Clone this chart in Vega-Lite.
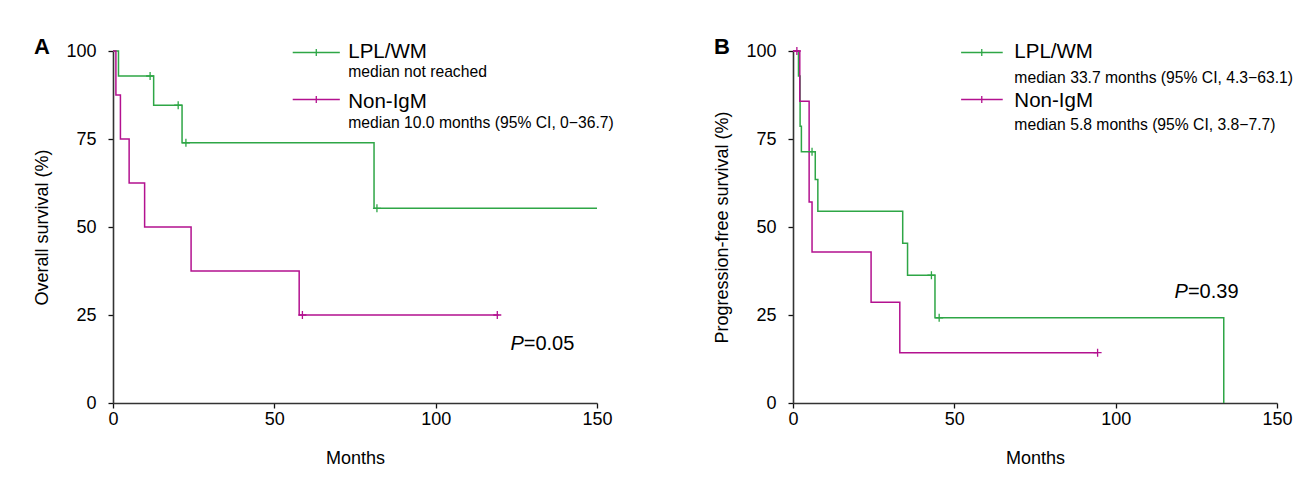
{
  "$schema": "https://vega.github.io/schema/vega-lite/v6.json",
  "background": "white",
  "padding": {"left": 33, "top": 36, "right": 0, "bottom": 0},
  "bounds": "flush",
  "spacing": 196,
  "datasets": {
    "curves": [
      {"panel": "A", "group": "LPL/WM", "month": 0, "surv": 100},
      {"panel": "A", "group": "LPL/WM", "month": 1.7, "surv": 92.9},
      {"panel": "A", "group": "LPL/WM", "month": 12.6, "surv": 84.6},
      {"panel": "A", "group": "LPL/WM", "month": 21.4, "surv": 73.9},
      {"panel": "A", "group": "LPL/WM", "month": 80.9, "surv": 55.3},
      {"panel": "A", "group": "LPL/WM", "month": 150, "surv": 55.3},
      {"panel": "A", "group": "Non-IgM", "month": 0, "surv": 100},
      {"panel": "A", "group": "Non-IgM", "month": 0.9, "surv": 87.5},
      {"panel": "A", "group": "Non-IgM", "month": 2.3, "surv": 75},
      {"panel": "A", "group": "Non-IgM", "month": 5.0, "surv": 62.5},
      {"panel": "A", "group": "Non-IgM", "month": 9.8, "surv": 50},
      {"panel": "A", "group": "Non-IgM", "month": 24.2, "surv": 37.5},
      {"panel": "A", "group": "Non-IgM", "month": 57.7, "surv": 25},
      {"panel": "A", "group": "Non-IgM", "month": 119.5, "surv": 25},
      {"panel": "B", "group": "LPL/WM", "month": 0, "surv": 100},
      {"panel": "B", "group": "LPL/WM", "month": 1.7, "surv": 92.9},
      {"panel": "B", "group": "LPL/WM", "month": 2.2, "surv": 78.6},
      {"panel": "B", "group": "LPL/WM", "month": 2.6, "surv": 71.4},
      {"panel": "B", "group": "LPL/WM", "month": 6.9, "surv": 63.5},
      {"panel": "B", "group": "LPL/WM", "month": 7.7, "surv": 54.5},
      {"panel": "B", "group": "LPL/WM", "month": 34.0, "surv": 45.4},
      {"panel": "B", "group": "LPL/WM", "month": 35.5, "surv": 36.3},
      {"panel": "B", "group": "LPL/WM", "month": 44.0, "surv": 24.2},
      {"panel": "B", "group": "LPL/WM", "month": 133.5, "surv": 0},
      {"panel": "B", "group": "Non-IgM", "month": 0, "surv": 100},
      {"panel": "B", "group": "Non-IgM", "month": 2.1, "surv": 85.7},
      {"panel": "B", "group": "Non-IgM", "month": 5.0, "surv": 57.1},
      {"panel": "B", "group": "Non-IgM", "month": 5.9, "surv": 42.9},
      {"panel": "B", "group": "Non-IgM", "month": 24.2, "surv": 28.6},
      {"panel": "B", "group": "Non-IgM", "month": 33.1, "surv": 14.3},
      {"panel": "B", "group": "Non-IgM", "month": 94.4, "surv": 14.3}
    ],
    "censors": [
      {"panel": "A", "group": "LPL/WM", "month": 11.5, "surv": 92.9},
      {"panel": "A", "group": "LPL/WM", "month": 20.2, "surv": 84.6},
      {"panel": "A", "group": "LPL/WM", "month": 22.6, "surv": 73.9},
      {"panel": "A", "group": "LPL/WM", "month": 81.8, "surv": 55.3},
      {"panel": "A", "group": "Non-IgM", "month": 58.7, "surv": 25},
      {"panel": "A", "group": "Non-IgM", "month": 119.1, "surv": 25},
      {"panel": "B", "group": "LPL/WM", "month": 5.9, "surv": 71.4},
      {"panel": "B", "group": "LPL/WM", "month": 42.9, "surv": 36.3},
      {"panel": "B", "group": "LPL/WM", "month": 45.3, "surv": 24.2},
      {"panel": "B", "group": "Non-IgM", "month": 1.2, "surv": 100},
      {"panel": "B", "group": "Non-IgM", "month": 94.4, "surv": 14.3}
    ]
  },
  "config": {
    "font": "Liberation Sans",
    "view": {"stroke": null},
    "axis": {
      "grid": false,
      "domainColor": "#333",
      "domainWidth": 1.6,
      "tickColor": "#111",
      "tickWidth": 1.3,
      "tickSize": 5,
      "labelFont": "Liberation Sans",
      "labelFontSize": 18,
      "labelColor": "#000",
      "titleFont": "Liberation Sans",
      "titleFontSize": 18,
      "titleFontWeight": "normal",
      "titleColor": "#000"
    },
    "axisX": {"labelPadding": 2, "titlePadding": 21, "labelFlush": false},
    "axisY": {"labelPadding": 12, "titlePadding": 14},
    "title": {"anchor": "start", "frame": "bounds", "fontSize": 22, "fontWeight": "bold", "font": "Liberation Sans", "color": "#000", "offset": -17},
    "text": {"font": "Liberation Sans", "color": "#000"}
  },
  "hconcat": [
    {
      "width": 484,
      "height": 352,
      "title": {"text": "A"},
      "layer": [
        {
          "data": {"name": "curves"},
          "transform": [{"filter": "datum.panel === 'A'"}],
          "mark": {"type": "line", "interpolate": "step-after", "strokeWidth": 1.5},
          "encoding": {
            "x": {"field": "month", "type": "quantitative", "scale": {"domain": [0, 150], "nice": false}, "axis": {"values": [0, 50, 100, 150], "title": "Months"}},
            "y": {"field": "surv", "type": "quantitative", "scale": {"domain": [0, 100], "nice": false}, "axis": {"values": [0, 25, 50, 75, 100], "title": "Overall survival (%)"}},
            "color": {"field": "group", "type": "nominal", "scale": {"domain": ["LPL/WM", "Non-IgM"], "range": ["#2ea646", "#b3118f"]}, "legend": null}
          }
        },
        {
          "data": {"name": "censors"},
          "transform": [{"filter": "datum.panel === 'A'"}],
          "mark": {"type": "point", "shape": "M0,-1V1M-1,0H1", "filled": false, "size": 64, "strokeWidth": 1.3, "opacity": 1},
          "encoding": {
            "x": {"field": "month", "type": "quantitative"},
            "y": {"field": "surv", "type": "quantitative"},
            "color": {"field": "group", "type": "nominal", "legend": null}
          }
        },
        {
          "data": {"values": [{"group": "LPL/WM"}]},
          "mark": {"type": "rule", "strokeWidth": 1.5},
          "encoding": {"x": {"datum": 55.7}, "x2": {"datum": 70.3}, "y": {"datum": 99.6}, "color": {"field": "group", "type": "nominal", "legend": null}}
        },
        {
          "data": {"values": [{"group": "Non-IgM"}]},
          "mark": {"type": "rule", "strokeWidth": 1.5},
          "encoding": {"x": {"datum": 55.7}, "x2": {"datum": 70.3}, "y": {"datum": 86.2}, "color": {"field": "group", "type": "nominal", "legend": null}}
        },
        {
          "data": {"values": [{"group": "LPL/WM"}]},
          "mark": {"type": "point", "shape": "M0,-1V1", "filled": false, "size": 49, "strokeWidth": 1.3, "opacity": 1},
          "encoding": {"x": {"datum": 63}, "y": {"datum": 99.6}, "color": {"field": "group", "type": "nominal", "legend": null}}
        },
        {
          "data": {"values": [{"group": "Non-IgM"}]},
          "mark": {"type": "point", "shape": "M0,-1V1", "filled": false, "size": 49, "strokeWidth": 1.3, "opacity": 1},
          "encoding": {"x": {"datum": 63}, "y": {"datum": 86.2}, "color": {"field": "group", "type": "nominal", "legend": null}}
        },
        {
          "data": {"values": [{"t": "LPL/WM"}]},
          "mark": {"type": "text", "align": "left", "baseline": "middle", "fontSize": 20.5},
          "encoding": {"x": {"datum": 72.9}, "y": {"datum": 99.6}, "text": {"field": "t"}}
        },
        {
          "data": {"values": [{"t": "median not reached"}]},
          "mark": {"type": "text", "align": "left", "baseline": "middle", "fontSize": 15.7},
          "encoding": {"x": {"datum": 72.9}, "y": {"datum": 94.0}, "text": {"field": "t"}}
        },
        {
          "data": {"values": [{"t": "Non-IgM"}]},
          "mark": {"type": "text", "align": "left", "baseline": "middle", "fontSize": 20.5},
          "encoding": {"x": {"datum": 72.9}, "y": {"datum": 85.6}, "text": {"field": "t"}}
        },
        {
          "data": {"values": [{"t": "median 10.0 months (95% CI, 0−36.7)"}]},
          "mark": {"type": "text", "align": "left", "baseline": "middle", "fontSize": 15.7},
          "encoding": {"x": {"datum": 72.9}, "y": {"datum": 79.6}, "text": {"field": "t"}}
        },
        {
          "data": {"values": [{"t": "P"}]},
          "mark": {"type": "text", "align": "right", "baseline": "middle", "fontSize": 20, "fontStyle": "italic"},
          "encoding": {"x": {"datum": 127.3}, "y": {"datum": 16.8}, "text": {"field": "t"}}
        },
        {
          "data": {"values": [{"t": "=0.05"}]},
          "mark": {"type": "text", "align": "left", "baseline": "middle", "fontSize": 20},
          "encoding": {"x": {"datum": 127.3}, "y": {"datum": 16.8}, "text": {"field": "t"}}
        }
      ]
    },
    {
      "width": 484,
      "height": 352,
      "title": {"text": "B"},
      "layer": [
        {
          "data": {"name": "curves"},
          "transform": [{"filter": "datum.panel === 'B'"}],
          "mark": {"type": "line", "interpolate": "step-after", "strokeWidth": 1.5},
          "encoding": {
            "x": {"field": "month", "type": "quantitative", "scale": {"domain": [0, 150], "nice": false}, "axis": {"values": [0, 50, 100, 150], "title": "Months"}},
            "y": {"field": "surv", "type": "quantitative", "scale": {"domain": [0, 100], "nice": false}, "axis": {"values": [0, 25, 50, 75, 100], "title": "Progression-free survival (%)"}},
            "color": {"field": "group", "type": "nominal", "scale": {"domain": ["LPL/WM", "Non-IgM"], "range": ["#2ea646", "#b3118f"]}, "legend": null}
          }
        },
        {
          "data": {"name": "censors"},
          "transform": [{"filter": "datum.panel === 'B'"}],
          "mark": {"type": "point", "shape": "M0,-1V1M-1,0H1", "filled": false, "size": 64, "strokeWidth": 1.3, "opacity": 1},
          "encoding": {
            "x": {"field": "month", "type": "quantitative"},
            "y": {"field": "surv", "type": "quantitative"},
            "color": {"field": "group", "type": "nominal", "legend": null}
          }
        },
        {
          "data": {"values": [{"group": "LPL/WM"}]},
          "mark": {"type": "rule", "strokeWidth": 1.5},
          "encoding": {"x": {"datum": 52.1}, "x2": {"datum": 65}, "y": {"datum": 99.6}, "color": {"field": "group", "type": "nominal", "legend": null}}
        },
        {
          "data": {"values": [{"group": "Non-IgM"}]},
          "mark": {"type": "rule", "strokeWidth": 1.5},
          "encoding": {"x": {"datum": 52.1}, "x2": {"datum": 65}, "y": {"datum": 86.2}, "color": {"field": "group", "type": "nominal", "legend": null}}
        },
        {
          "data": {"values": [{"group": "LPL/WM"}]},
          "mark": {"type": "point", "shape": "M0,-1V1", "filled": false, "size": 49, "strokeWidth": 1.3, "opacity": 1},
          "encoding": {"x": {"datum": 58.5}, "y": {"datum": 99.6}, "color": {"field": "group", "type": "nominal", "legend": null}}
        },
        {
          "data": {"values": [{"group": "Non-IgM"}]},
          "mark": {"type": "point", "shape": "M0,-1V1", "filled": false, "size": 49, "strokeWidth": 1.3, "opacity": 1},
          "encoding": {"x": {"datum": 58.5}, "y": {"datum": 86.2}, "color": {"field": "group", "type": "nominal", "legend": null}}
        },
        {
          "data": {"values": [{"t": "LPL/WM"}]},
          "mark": {"type": "text", "align": "left", "baseline": "middle", "fontSize": 20.5},
          "encoding": {"x": {"datum": 68.6}, "y": {"datum": 99.6}, "text": {"field": "t"}}
        },
        {
          "data": {"values": [{"t": "median 33.7 months (95% CI, 4.3−63.1)"}]},
          "mark": {"type": "text", "align": "left", "baseline": "middle", "fontSize": 15.7},
          "encoding": {"x": {"datum": 68.6}, "y": {"datum": 92.2}, "text": {"field": "t"}}
        },
        {
          "data": {"values": [{"t": "Non-IgM"}]},
          "mark": {"type": "text", "align": "left", "baseline": "middle", "fontSize": 20.5},
          "encoding": {"x": {"datum": 68.6}, "y": {"datum": 85.8}, "text": {"field": "t"}}
        },
        {
          "data": {"values": [{"t": "median 5.8 months (95% CI, 3.8−7.7)"}]},
          "mark": {"type": "text", "align": "left", "baseline": "middle", "fontSize": 15.7},
          "encoding": {"x": {"datum": 68.6}, "y": {"datum": 79.0}, "text": {"field": "t"}}
        },
        {
          "data": {"values": [{"t": "P"}]},
          "mark": {"type": "text", "align": "right", "baseline": "middle", "fontSize": 20, "fontStyle": "italic"},
          "encoding": {"x": {"datum": 122.4}, "y": {"datum": 31.4}, "text": {"field": "t"}}
        },
        {
          "data": {"values": [{"t": "=0.39"}]},
          "mark": {"type": "text", "align": "left", "baseline": "middle", "fontSize": 20},
          "encoding": {"x": {"datum": 122.4}, "y": {"datum": 31.4}, "text": {"field": "t"}}
        }
      ]
    }
  ]
}
